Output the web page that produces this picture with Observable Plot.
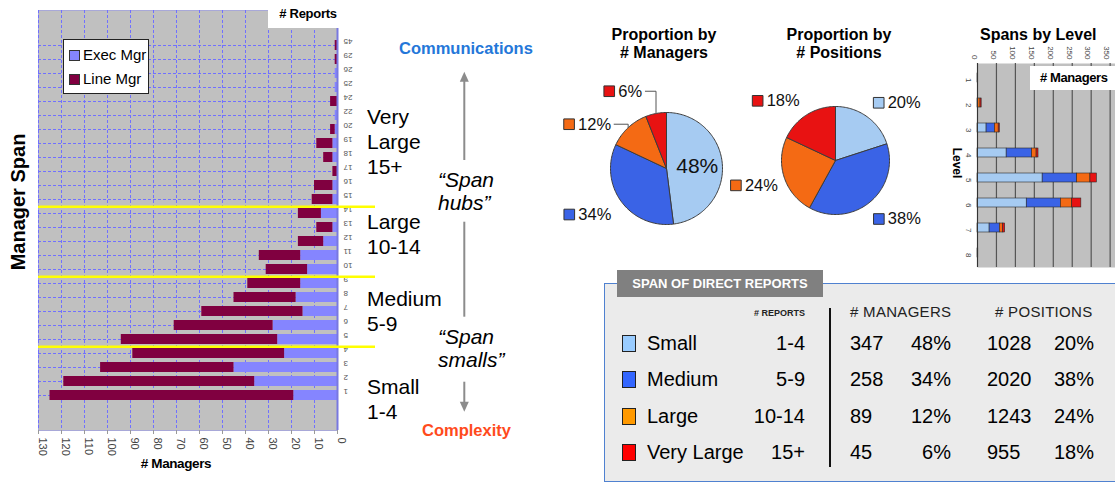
<!DOCTYPE html>
<html>
<head>
<meta charset="utf-8">
<script src="https://cdn.jsdelivr.net/npm/d3@7"></script>
<script src="https://cdn.jsdelivr.net/npm/@observablehq/plot@0.6"></script>
<style>
html,body{margin:0;padding:0;background:#fff;}
#root{position:relative;width:1115px;height:485px;overflow:hidden;background:#fff;font-family:"Liberation Sans",Arial,sans-serif;color:#000;}
.a{position:absolute;white-space:nowrap;}
.a svg{display:block;max-width:none;}
</style>
</head>
<body>
<div id="root"></div>
<script>
// ---------------- DATA ----------------
// Manager span chart (bottom to top)
const spans   = [1,2,3,4,5,6,7,8,9,10,11,12,13,14,15,16,17,18,19,20,22,24,25,26,29,45];
const execMgr = [19,36,45,23,26,28,15,18,16,13,16,6,2,7,2,2,0,2,2,1,1,0,1,1,0,0];
const lineMgr = [106,83,58,66,68,43,44,27,23,18,18,11,7,10,9,8,2,4,7,2,0,3,0,0,1,1];
const barSeries = ["Exec Mgr","Line Mgr"];
const managerTicks = [0,10,20,30,40,50,60,70,80,90,100,110,120,130];
const bandBreaks = ["15","10","5"];

// Span groups / table
const spanGroups     = ["Small","Medium","Large","Very Large"];
const groupRanges    = ["1-4","5-9","10-14","15+"];
const groupManagers  = [347,258,89,45];
const groupMgrPct    = [48,34,12,6];
const groupPositions = [1028,2020,1243,955];
const groupPosPct    = [20,38,24,18];
const bandLabels     = [["Very","Large","15+"],["Large","10-14"],["Medium","5-9"],["Small","1-4"]];

// Spans by level
const levels      = [1,2,3,4,5,6,7,8];
const levelSmall  = [1,0,24,77,172,130,32,2];
const levelMedium = [0,2,22,67,91,90,27,0];
const levelLarge  = [0,6,10,12,35,30,8,0];
const levelVLarge = [0,3,3,5,17,24,6,0];
const levelTicks  = [0,50,100,150,200,250,300,350];

// ---------------- STYLE ----------------
const FONT = '"Liberation Sans", Arial, sans-serif';
const pieColors = ["#a6cbf2","#3a63e6","#f46a14","#e81212"];
const tableColors = ["#99ccff","#3366ff","#ff9900","#ff0000"];
const root = document.getElementById("root");
function put(node, left, top, w){const d=document.createElement("div");d.className="a";d.style.left=left+"px";d.style.top=top+"px";if(w)d.style.width=w+"px";d.appendChild(node);root.appendChild(d);return d;}
function txt(html, left, top, css){const d=document.createElement("div");d.className="a";d.style.left=left+"px";d.style.top=top+"px";d.style.cssText+=";"+(css||"");d.innerHTML=html;root.appendChild(d);return d;}

// ---------------- LEFT: manager span ----------------
{
  const W=380,H=485,ML=38,MR=43,MT=10,MB=55,pin=0.32,pout=1.5;
  const step=(H-MT-MB)/(spans.length-pin+2*pout);
  const pxU=(W-ML-MR)/130;
  const rows=[];
  [execMgr,lineMgr].forEach((vals,k)=>spans.forEach((s,i)=>rows.push({span:String(s),series:barSeries[k],n:vals[i]})));
  const yDom=spans.map(String).reverse();
  const chart=Plot.plot({
    width:W,height:H,marginLeft:ML,marginRight:MR,marginTop:MT,marginBottom:MB,
    style:{background:"transparent",fontFamily:FONT,maxWidth:"none",overflow:"visible"},
    x:{domain:[0,130],reverse:true,axis:null,label:null},
    y:{domain:yDom,paddingInner:pin,paddingOuter:pout,axis:null,label:null},
    color:{domain:barSeries,range:["#8585ff","#800040"]},
    marks:[
      Plot.frame({fill:"#c0c0c0",stroke:"#a8a8d8"}),
      Plot.gridX(managerTicks,{stroke:"#7070ff",strokeOpacity:1,strokeDasharray:"3,2"}),
      Plot.gridY(yDom,{stroke:"#7070ff",strokeOpacity:1,strokeDasharray:"3,2"}),
      Plot.barX(rows,{y:"span",x:"n",fill:"series"}),
      Plot.ruleX([0],{stroke:"#7878e0",strokeWidth:2}),
      Plot.axisX({ticks:managerTicks,tickSize:4,tickFormat:()=>"",label:null,stroke:"#999"}),
      Plot.text(managerTicks,{x:d=>d,frameAnchor:"bottom",dy:7,rotate:90,textAnchor:"start",fontSize:11,fill:"#444"}),
      Plot.text(yDom,{y:d=>d,frameAnchor:"right",dx:6,dy:-4,rotate:180,textAnchor:"end",fontSize:8,fill:"#555"}),
      Plot.ruleY(bandBreaks,{y:d=>d,dy:step/2,x1:130,x2:-38/pxU,stroke:"#ffff00",strokeWidth:2.5})
    ]
  });
  put(chart,0,0,W);
  txt("# Reports",268,0,"width:80px;height:28px;background:#fff;font-weight:bold;font-size:13px;line-height:28px;text-align:center;letter-spacing:-0.3px;");
  txt("# Managers",116,455,"width:120px;text-align:center;font-weight:bold;font-size:13.5px;line-height:18px;letter-spacing:-0.4px;");
  txt("Manager Span",18,202,"transform:translate(-50%,-50%) rotate(-90deg);font-weight:bold;font-size:20px;");
  // legend
  const lg=txt("",63,39,"width:84px;height:53px;background:#fff;border:1px solid #222;");
  barSeries.forEach((s,i)=>{
    const cy=15+i*24;
    const sw=document.createElement("div");sw.style.cssText=`position:absolute;left:5px;top:${cy-5}px;width:9px;height:9px;background:${["#8585ff","#800040"][i]};border:1px solid #333;`;
    const t=document.createElement("div");t.style.cssText=`position:absolute;left:19px;top:${cy-9}px;font-size:15px;line-height:18px;`;t.textContent=s;
    lg.appendChild(sw);lg.appendChild(t);
  });
}

// ---------------- MIDDLE annotations ----------------
{
  const starts=[116.7,221.7,298,386.7];
  bandLabels.forEach((ls,i)=>txt(ls.join("<br>"),367,starts[i]-12.5,"font-size:21px;line-height:25px;"));
  txt("\u201CSpan<br>hubs\u201D",438,168,"font-style:italic;font-size:21px;line-height:23px;");
  txt("\u201CSpan<br>smalls\u201D",438,325,"font-style:italic;font-size:21px;line-height:23px;");
  txt("Communications",399,38,"font-weight:bold;font-size:16.5px;color:#2477d9;line-height:20px;");
  txt("Complexity",422,420,"font-weight:bold;font-size:16.5px;color:#ff4a1c;line-height:20px;");
  const ns="http://www.w3.org/2000/svg";
  const svg=document.createElementNS(ns,"svg");svg.setAttribute("width",30);svg.setAttribute("height",360);
  const X=14.3,T=60;
  [[71.7+8,160],[221.7,316.7],[381.7,411.7-8]].forEach(([a,b])=>{const l=document.createElementNS(ns,"line");l.setAttribute("x1",X);l.setAttribute("x2",X);l.setAttribute("y1",a-T);l.setAttribute("y2",b-T);l.setAttribute("stroke","#8c8c8c");l.setAttribute("stroke-width",2);svg.appendChild(l);});
  [[71.7,1],[411.7,-1]].forEach(([tip,dir])=>{const p=document.createElementNS(ns,"path");const y=tip-T;p.setAttribute("d",`M${X},${y} L${X-4.5},${y+dir*10} L${X+4.5},${y+dir*10} Z`);p.setAttribute("fill","#8c8c8c");svg.appendChild(p);});
  put(svg,450,T,30);
}

// ---------------- PIES ----------------
const mctx=document.createElement("canvas").getContext("2d");
function pie(vals,R,W,H,cx,cy,nudges,insideFirst,leaders){
  const total=d3.sum(vals);const pts=[],outL=[],inL=[],lead=[];let acc=0;
  vals.forEach((v,i)=>{
    const g=spanGroups[i];const a0=acc/total*2*Math.PI;acc+=v;const a1=acc/total*2*Math.PI;
    const n=Math.max(2,Math.ceil((a1-a0)/(Math.PI/120)));
    pts.push({g,x:0,y:0});
    for(let j=0;j<=n;j++){const a=a0+(a1-a0)*j/n;pts.push({g,x:R*Math.sin(a),y:-R*Math.cos(a)});}
    pts.push({g,x:0,y:0});
    const am=(a0+a1)/2,ux=Math.sin(am),uy=-Math.cos(am);
    const t=v+"%";
    if(insideFirst&&i===0){inL.push({g,x:ux*R*0.55,y:uy*R*0.55,t});}
    else{
      const lx=ux*R*1.55+nudges[i][0],ly=uy*R*1.55+nudges[i][1];
      outL.push({g,x:lx,y:ly,t});
      if(leaders[i]){
        mctx.font="16px "+FONT;const tw=mctx.measureText(t).width;
        const ex=ux*R,ey=uy*R;
        lead.push({id:i,x:lx+9+tw+4,y:ly},{id:i,x:ex,y:ly},{id:i,x:ex,y:ey});
      }
    }
  });
  return Plot.plot({
    width:W,height:H,margin:0,
    style:{background:"transparent",fontFamily:FONT,maxWidth:"none",overflow:"visible"},
    x:{domain:[-cx,W-cx],range:[0,W],axis:null},
    y:{domain:[-cy,H-cy],range:[0,H],axis:null},
    color:{domain:spanGroups,range:pieColors},
    marks:[
      Plot.line(pts,{x:"x",y:"y",z:"g",fill:"g",stroke:"#3c3c3c",strokeWidth:1,curve:"linear"}),
      Plot.line(lead,{x:"x",y:"y",z:"id",stroke:"#555",strokeWidth:1}),
      Plot.dot(outL,{x:"x",y:"y",symbol:"square",r:6,fill:"g",stroke:"#333",strokeWidth:1}),
      Plot.text(outL,{x:"x",y:"y",text:"t",dx:9,textAnchor:"start",fontSize:16.5,fill:"#111"}),
      Plot.text(inL,{x:"x",y:"y",text:"t",fontSize:21,fill:"#111"})
    ]
  });
}
put(pie(groupMgrPct,56,240,180,120,106,[[0,0],[-27,-5],[-38,19],[-41,8]],true,[false,false,true,true]),546,62,240);
put(pie(groupPosPct,54,240,180,120,98,[[-6,10],[-10,-6],[-20,-1],[-33,11]],false,[false,false,false,false]),715,62,240);
txt("Proportion by<br># Managers",594,26,"width:140px;text-align:center;font-weight:bold;font-size:16px;line-height:18px;");
txt("Proportion by<br># Positions",769,26,"width:140px;text-align:center;font-weight:bold;font-size:16px;line-height:18px;");

// ---------------- SPANS BY LEVEL ----------------
{
  const W=171,H=235,ML=27,MT=23,MB=8;
  const rows=[];const series=[levelSmall,levelMedium,levelLarge,levelVLarge];
  series.forEach((vals,k)=>levels.forEach((l,i)=>rows.push({level:String(l),g:spanGroups[k],n:vals[i]})));
  const chart=Plot.plot({
    width:W,height:H,marginLeft:ML,marginRight:0,marginTop:MT,marginBottom:MB,
    style:{background:"transparent",fontFamily:FONT,maxWidth:"none",overflow:"visible"},
    x:{domain:[0,380],axis:null},
    y:{domain:levels.map(String),paddingInner:0.64,paddingOuter:0.375,axis:null},
    color:{domain:spanGroups,range:pieColors},
    marks:[
      Plot.frame({fill:"#c0c0c0",stroke:null}),
      Plot.gridX(levelTicks,{stroke:"#555",strokeOpacity:1,strokeWidth:1.2}),
      Plot.barX(rows,{filter:d=>d.n>0,y:"level",x:"n",fill:"g",stroke:"#2a2a2a",strokeWidth:0.6}),
      Plot.ruleX([0],{stroke:"#333"}),
      Plot.text(levelTicks,{x:d=>d,frameAnchor:"top",dy:-4,rotate:90,textAnchor:"end",fontSize:8,fill:"#444"}),
      Plot.text(levels.map(String),{y:d=>d,frameAnchor:"left",dx:-9,rotate:90,fontSize:8,fill:"#444"})
    ]
  });
  put(chart,950,40,W);
  txt("Spans by Level",980,25,"font-weight:bold;font-size:16px;line-height:20px;");
  txt("# Managers",1030,66,"width:85px;height:24px;background:#fff;font-weight:bold;font-size:13px;line-height:24px;padding-left:10px;box-sizing:border-box;letter-spacing:-0.4px;");
  txt("Level",957,163,"transform:translate(-50%,-50%) rotate(90deg);font-weight:bold;font-size:12px;");
}

// ---------------- TABLE ----------------
{
  txt("",604,283,"width:520px;height:199px;background:#ebebeb;border:1.5px solid #4f81d0;box-sizing:border-box;");
  txt("SPAN OF DIRECT REPORTS",617,270,"width:206px;height:27px;background:#808080;color:#fff;font-weight:bold;font-size:13px;line-height:27px;text-align:center;");
  txt("# REPORTS",705,307,"width:100px;text-align:right;font-weight:bold;font-size:9px;line-height:12px;color:#222;");
  txt("# MANAGERS",850,303,"font-size:15px;line-height:18px;color:#222;letter-spacing:0.3px;");
  txt("# POSITIONS",995,303,"font-size:15px;line-height:18px;color:#222;letter-spacing:0.3px;");
  txt("",829,308,"width:1.5px;height:159px;background:#111;");
  spanGroups.forEach((g,i)=>{
    const y=343+i*36.3,top=y-12,cs="font-size:20px;line-height:24px;";
    txt("",622,y-8,`width:12px;height:15px;background:${tableColors[i]};border:1px solid #222;`);
    txt(g,647,top,cs);
    txt(groupRanges[i],705,top,cs+"width:100px;text-align:right;");
    txt(String(groupManagers[i]),850,top,cs);
    txt(groupMgrPct[i]+"%",871,top,cs+"width:80px;text-align:right;");
    txt(String(groupPositions[i]),987,top,cs);
    txt(groupPosPct[i]+"%",1014,top,cs+"width:80px;text-align:right;");
  });
}
</script>
</body>
</html>
